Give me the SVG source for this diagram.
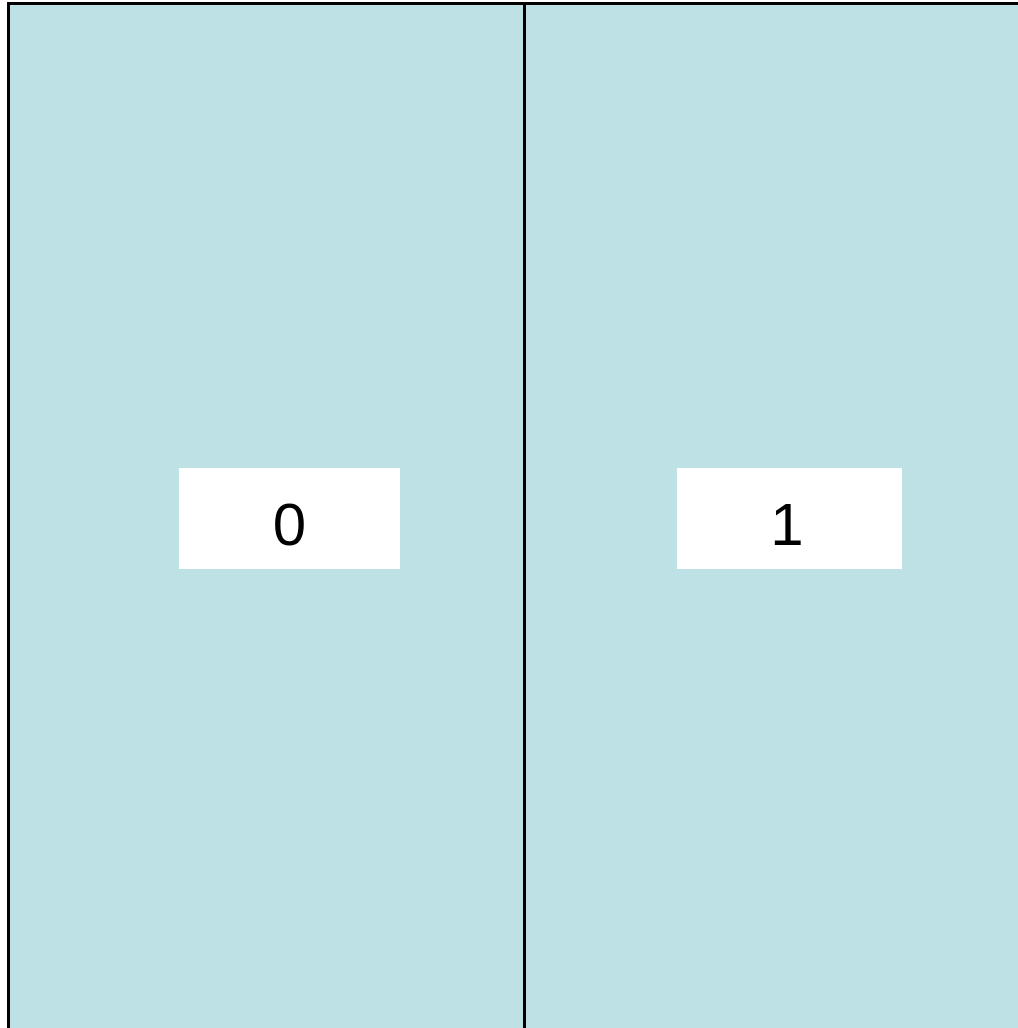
<svg xmlns="http://www.w3.org/2000/svg" width="1018" height="1028" viewBox="0 0 1018 1028">
<style>
.cell{fill:#bee1e5;stroke:#000;stroke-width:3}
.lbl{fill:#fff}
.t{font-family:"Liberation Sans",Arial,sans-serif;font-size:60px;fill:#000;text-anchor:middle}
</style>
<rect width="1018" height="1028" fill="#fff"/>
<g id="cell0">
<rect class="cell" x="8.5" y="3.5" width="516" height="1040"/>
<rect class="lbl" x="179" y="468" width="221" height="101"/>
<text class="t" x="289.5" y="545">0</text>
</g>
<g id="cell1">
<rect class="cell" x="524.5" y="3.5" width="520" height="1040"/>
<rect class="lbl" x="677" y="468" width="225" height="101"/>
<text class="t" x="787" y="545">1</text>
</g>
<g id="connectors"></g>
</svg>
